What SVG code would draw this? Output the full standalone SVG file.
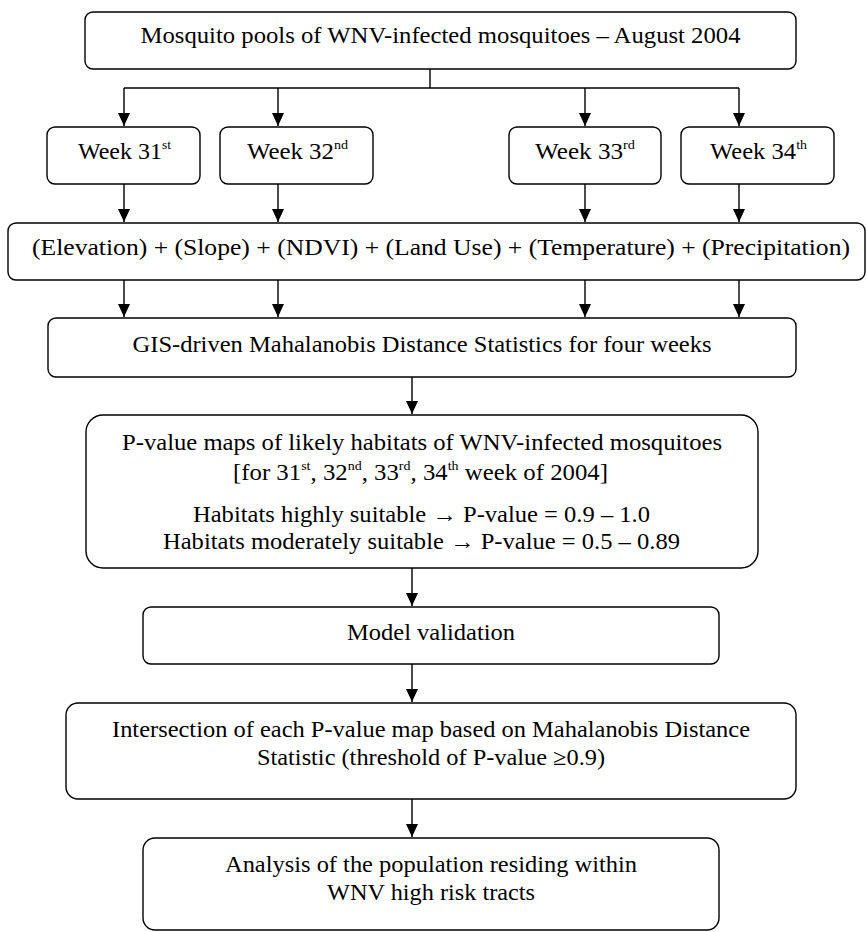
<svg xmlns="http://www.w3.org/2000/svg" width="867" height="932" viewBox="0 0 867 932">
<style>
.box{fill:#fff;stroke:#000;stroke-width:1.4}
.t{font-family:"Liberation Serif","Times New Roman",serif;font-size:23px;fill:#000;text-anchor:middle}
.s{font-size:13px}
.c{fill:none;stroke:#000;stroke-width:1.4}
</style>
<defs>
<marker id="ah" viewBox="0 0 13 12" refX="13" refY="6" markerWidth="13" markerHeight="12" markerUnits="userSpaceOnUse" orient="auto">
<path d="M0,0 L13,6 L0,12 z" fill="#000"/>
</marker>
</defs>
<rect width="867" height="932" fill="#fff"/>
<g id="connectors">
<path class="c" d="M430,69 V88 M124,88 H739"/>
<path class="c" d="M124,88 V126" marker-end="url(#ah)"/>
<path class="c" d="M278,88 V126" marker-end="url(#ah)"/>
<path class="c" d="M585,88 V126" marker-end="url(#ah)"/>
<path class="c" d="M739,88 V126" marker-end="url(#ah)"/>
<path class="c" d="M124,184 V222" marker-end="url(#ah)"/>
<path class="c" d="M278,184 V222" marker-end="url(#ah)"/>
<path class="c" d="M585,184 V222" marker-end="url(#ah)"/>
<path class="c" d="M739,184 V222" marker-end="url(#ah)"/>
<path class="c" d="M124,280 V317" marker-end="url(#ah)"/>
<path class="c" d="M278,280 V317" marker-end="url(#ah)"/>
<path class="c" d="M585,280 V317" marker-end="url(#ah)"/>
<path class="c" d="M739,280 V317" marker-end="url(#ah)"/>
<path class="c" d="M412,377 V414" marker-end="url(#ah)"/>
<path class="c" d="M412,568 V606" marker-end="url(#ah)"/>
<path class="c" d="M412,664 V702" marker-end="url(#ah)"/>
<path class="c" d="M412,799 V837" marker-end="url(#ah)"/>
</g>
<g id="source">
<rect class="box" x="85" y="12" width="711" height="57" rx="8"/>
<text class="t" x="440.5" y="43" textLength="600" lengthAdjust="spacingAndGlyphs">Mosquito pools of WNV-infected mosquitoes – August 2004</text>
</g>
<g id="week31">
<rect class="box" x="47" y="127" width="153" height="57" rx="8"/>
<text class="t" x="124.5" y="159" textLength="93" lengthAdjust="spacingAndGlyphs">Week 31<tspan class="s" dy="-10">st</tspan></text>
</g>
<g id="week32">
<rect class="box" x="220" y="127" width="153" height="57" rx="8"/>
<text class="t" x="297.5" y="159" textLength="101" lengthAdjust="spacingAndGlyphs">Week 32<tspan class="s" dy="-10">nd</tspan></text>
</g>
<g id="week33">
<rect class="box" x="509" y="127" width="152" height="57" rx="8"/>
<text class="t" x="585" y="159" textLength="100" lengthAdjust="spacingAndGlyphs">Week 33<tspan class="s" dy="-10">rd</tspan></text>
</g>
<g id="week34">
<rect class="box" x="681" y="127" width="153" height="57" rx="8"/>
<text class="t" x="758.5" y="159" textLength="97" lengthAdjust="spacingAndGlyphs">Week 34<tspan class="s" dy="-10">th</tspan></text>
</g>
<g id="factors">
<rect class="box" x="8" y="223" width="857" height="57" rx="8"/>
<text class="t" x="441" y="255" textLength="818" lengthAdjust="spacingAndGlyphs">(Elevation) + (Slope) + (NDVI) + (Land Use) + (Temperature) + (Precipitation)</text>
</g>
<g id="gis">
<rect class="box" x="48" y="318" width="748" height="59" rx="8"/>
<text class="t" x="422" y="352" textLength="579" lengthAdjust="spacingAndGlyphs">GIS-driven Mahalanobis Distance Statistics for four weeks</text>
</g>
<g id="pvalue">
<rect class="box" x="86" y="415" width="672" height="153" rx="17"/>
<text class="t" x="422" y="450" textLength="600" lengthAdjust="spacingAndGlyphs">P-value maps of likely habitats of WNV-infected mosquitoes</text>
<text class="t" x="420.5" y="480" textLength="375" lengthAdjust="spacingAndGlyphs">[for 31<tspan class="s" dy="-10">st</tspan><tspan dy="10">, 32</tspan><tspan class="s" dy="-10">nd</tspan><tspan dy="10">, 33</tspan><tspan class="s" dy="-10">rd</tspan><tspan dy="10">, 34</tspan><tspan class="s" dy="-10">th</tspan><tspan dy="10"> week of 2004]</tspan></text>
<text class="t" x="421.5" y="522" textLength="457" lengthAdjust="spacingAndGlyphs">Habitats highly suitable → P-value = 0.9 – 1.0</text>
<text class="t" x="421.5" y="549" textLength="517" lengthAdjust="spacingAndGlyphs">Habitats moderately suitable → P-value = 0.5 – 0.89</text>
</g>
<g id="validation">
<rect class="box" x="143" y="607" width="576" height="57" rx="8"/>
<text class="t" x="431" y="640" textLength="168" lengthAdjust="spacingAndGlyphs">Model validation</text>
</g>
<g id="intersection">
<rect class="box" x="66" y="703" width="730" height="96" rx="12"/>
<text class="t" x="431" y="737" textLength="638" lengthAdjust="spacingAndGlyphs">Intersection of each P-value map based on Mahalanobis Distance</text>
<text class="t" x="431" y="765" textLength="348" lengthAdjust="spacingAndGlyphs">Statistic (threshold of P-value ≥0.9)</text>
</g>
<g id="analysis">
<rect class="box" x="143" y="838" width="576" height="92" rx="12"/>
<text class="t" x="431" y="872" textLength="412" lengthAdjust="spacingAndGlyphs">Analysis of the population residing within</text>
<text class="t" x="431" y="900" textLength="208" lengthAdjust="spacingAndGlyphs">WNV high risk tracts</text>
</g>
</svg>
